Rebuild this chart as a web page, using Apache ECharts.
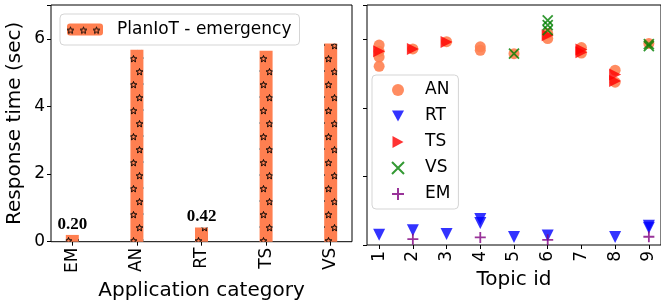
<!DOCTYPE html>
<html>
<head>
<meta charset="utf-8">
<script src="https://cdn.jsdelivr.net/npm/echarts@6/dist/echarts.min.js"></script>
<style>
  html, body { margin: 0; padding: 0; background: #fff; }
  #chart { width: 661px; height: 306px; }
</style>
</head>
<body>
<div id="chart"></div>
<script>
  // left panel: response time per application category
  const categories = ['EM', 'AN', 'RT', 'TS', 'VS'];
  const barValues = [0.20, 5.68, 0.42, 5.65, 5.86];
  const yTicks = [0, 2, 4, 6];

  // right panel: response time per topic id, one list of [topic, seconds] per category
  const topicIds = [1, 2, 3, 4, 5, 6, 7, 8, 9];
  const anPoints = [[1, 5.83], [1, 5.65], [1, 5.48], [1, 5.21], [2, 5.72], [3, 5.93], [4, 5.78], [4, 5.68],
    [5, 5.58], [6, 6.17], [6, 6.02], [7, 5.76], [7, 5.60], [8, 5.10], [8, 4.75], [9, 5.88]];
  const rtPoints = [[1, 0.30], [2, 0.43], [3, 0.32], [4, 0.76], [4, 0.64], [5, 0.23], [6, 0.28], [8, 0.23],
    [9, 0.56], [9, 0.50]];
  const tsPoints = [[1, 5.65], [2, 5.72], [3, 5.92], [6, 6.12], [7, 5.70], [7, 5.62], [8, 4.97], [8, 4.78]];
  const vsPoints = [[5, 5.58], [6, 6.55], [6, 6.41], [6, 6.27], [9, 5.86], [9, 5.80]];
  const emPoints = [[2, 0.17], [4, 0.22], [6, 0.15], [9, 0.24]];

  const font = 'DejaVu Sans';

  // star hatch like matplotlib's '*'
  function starTile() {
    const c = document.createElement('canvas');
    c.width = 13; c.height = 26;
    const ctx = c.getContext('2d');
    ctx.fillStyle = '#ff7f50';
    ctx.fillRect(0, 0, 13, 26);
    const star = (cx, cy) => {
      ctx.beginPath();
      for (let i = 0; i < 10; i++) {
        const a = -Math.PI / 2 + i * Math.PI / 5;
        const rad = i % 2 ? 1.5 : 3.5;
        const px = cx + rad * Math.cos(a), py = cy + rad * Math.sin(a);
        i ? ctx.lineTo(px, py) : ctx.moveTo(px, py);
      }
      ctx.closePath();
      ctx.strokeStyle = '#000';
      ctx.lineWidth = 1;
      ctx.stroke();
    };
    star(3.5, 7);
    star(9.5, 20);
    return c;
  }

  const chart = echarts.init(document.getElementById('chart'));

  const frame = {show: true, borderColor: '#000', borderWidth: 1, backgroundColor: 'transparent'};
  const tickStyle = {show: true, length: 4, lineStyle: {color: '#000', width: 1}};
  const noLine = {show: false, onZero: false};

  const option = {
    backgroundColor: '#fff',
    animation: false,
    textStyle: {fontFamily: font},
    grid: [
      Object.assign({left: 51, right: 309, top: 5, bottom: 61}, frame),
      Object.assign({left: 367, right: -3, top: 5, bottom: 61}, frame)
    ],
    legend: [{
      data: ['PlanIoT - emergency'],
      left: 60, top: 14,
      orient: 'vertical',
      padding: [6, 8, 6, 7],
      itemWidth: 36, itemHeight: 12,
      backgroundColor: '#fff',
      borderColor: '#d5d5d5', borderWidth: 1, borderRadius: 4,
      textStyle: {fontFamily: font, fontSize: 17, color: '#000', lineHeight: 19, padding: [0, 0, 0, 9]}
    }, {
      data: ['AN', 'RT', 'TS', 'VS', 'EM'],
      left: 372, top: 75,
      orient: 'vertical',
      padding: [6, 8, 6, 19],
      itemWidth: 12, itemHeight: 12, itemGap: 8,
      backgroundColor: '#fff',
      borderColor: '#d5d5d5', borderWidth: 1, borderRadius: 4,
      textStyle: {fontFamily: font, fontSize: 17, color: '#000', lineHeight: 18, padding: [0, 0, 0, 16]}
    }],
    xAxis: [{
      gridIndex: 0, type: 'value', min: -0.33, max: 4.33,
      name: 'Application category', nameLocation: 'middle', nameGap: 37,
      nameTextStyle: {fontFamily: font, fontSize: 20, color: '#000'},
      axisLine: noLine,
      axisTick: Object.assign({customValues: [0, 1, 2, 3, 4]}, tickStyle),
      axisLabel: {
        customValues: [0, 1, 2, 3, 4], rotate: 90, margin: 6,
        fontFamily: font, fontSize: 17, color: '#000',
        formatter: v => categories[Math.round(v)]
      },
      splitLine: {show: false}
    }, {
      gridIndex: 1, type: 'value', min: 0.64, max: 9.36,
      name: 'Topic id', nameLocation: 'middle', nameGap: 23,
      nameTextStyle: {fontFamily: font, fontSize: 20, color: '#000'},
      axisLine: noLine,
      axisTick: Object.assign({customValues: topicIds}, tickStyle),
      axisLabel: {customValues: topicIds, rotate: 90, margin: 6, fontFamily: font, fontSize: 17, color: '#000'},
      splitLine: {show: false}
    }],
    yAxis: [{
      gridIndex: 0, type: 'value', min: 0, max: 7, interval: 2,
      name: 'Response time (sec)', nameLocation: 'middle', nameGap: 26,
      nameTextStyle: {fontFamily: font, fontSize: 20, color: '#000'},
      axisLine: noLine,
      axisTick: tickStyle,
      axisLabel: {
        fontFamily: font, fontSize: 17, color: '#000', margin: 6,
        formatter: v => (yTicks.indexOf(v) >= 0 ? String(v) : '')
      },
      splitLine: {show: false}
    }, {
      gridIndex: 1, type: 'value', min: 0, max: 7, interval: 2,
      axisLine: noLine,
      axisTick: tickStyle,
      axisLabel: {show: false},
      splitLine: {show: false}
    }],
    series: [{
      name: 'PlanIoT - emergency',
      type: 'bar',
      xAxisIndex: 0, yAxisIndex: 0,
      barWidth: 13,
      data: barValues.map((v, i) => [i, v]),
      itemStyle: {color: {image: starTile(), repeat: 'repeat'}},
      label: {
        show: true, position: 'top', distance: 2,
        fontFamily: 'Liberation Serif', fontWeight: 'bold', fontSize: 17, color: '#000',
        formatter: p => (p.value[1] < 1 ? p.value[1].toFixed(2) : '')
      }
    }, {
      name: 'AN', type: 'scatter', xAxisIndex: 1, yAxisIndex: 1,
      symbol: 'circle', symbolSize: 11,
      itemStyle: {color: '#ff7f50', opacity: 0.9},
      data: anPoints
    }, {
      name: 'RT', type: 'scatter', xAxisIndex: 1, yAxisIndex: 1,
      symbol: 'path://M0,0L12,0L6,11Z', symbolSize: 12,
      itemStyle: {color: '#0000ff'},
      data: rtPoints
    }, {
      name: 'TS', type: 'scatter', xAxisIndex: 1, yAxisIndex: 1,
      symbol: 'path://M0,0L11,6L0,12Z', symbolSize: 12,
      itemStyle: {color: '#ff0000'},
      data: tsPoints
    }, {
      name: 'VS', type: 'scatter', xAxisIndex: 1, yAxisIndex: 1,
      symbol: 'path://M0,0L10,10M0,10L10,0', symbolSize: 10,
      itemStyle: {color: 'rgba(0,0,0,0)', borderColor: '#008000', borderWidth: 1.8},
      data: vsPoints
    }, {
      name: 'EM', type: 'scatter', xAxisIndex: 1, yAxisIndex: 1,
      symbol: 'path://M5,0L5,10M0,5L10,5', symbolSize: 11,
      itemStyle: {color: 'rgba(0,0,0,0)', borderColor: '#800080', borderWidth: 1.8},
      data: emPoints
    }]
  };

  chart.setOption(option);
</script>
</body>
</html>
